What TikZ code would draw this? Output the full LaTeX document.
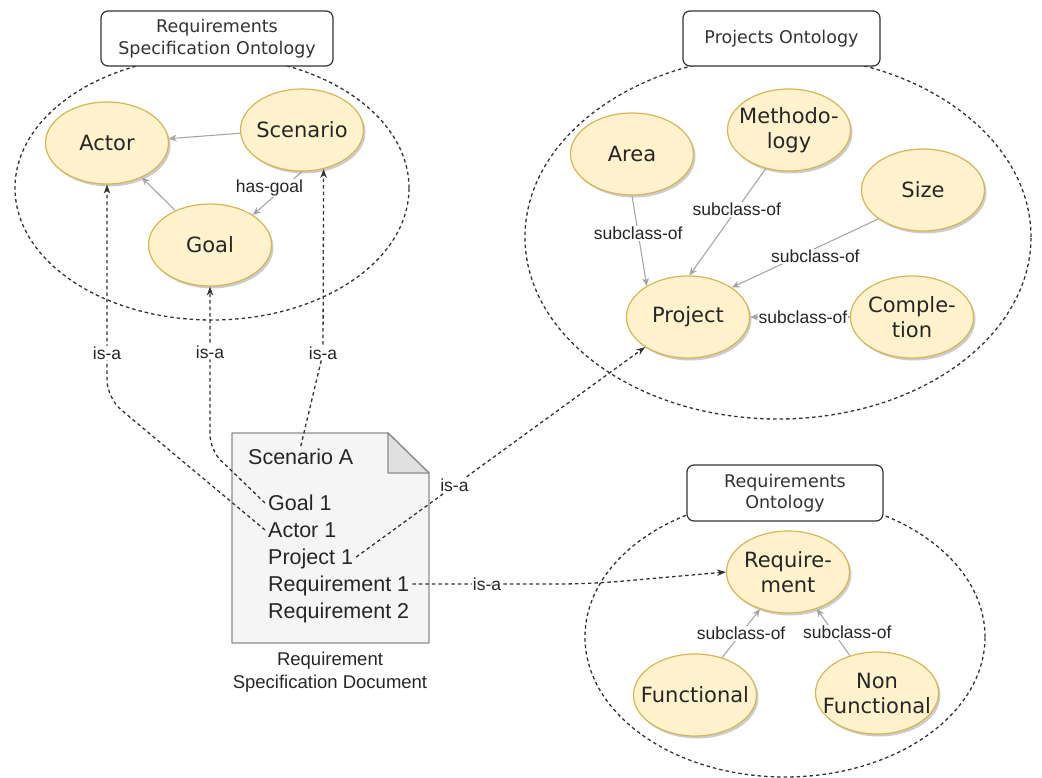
\documentclass[tikz,border=0pt]{standalone}
\usepackage{fontspec}
\setmainfont{DejaVu Sans}
\newfontfamily\labfont{Liberation Sans}
\usetikzlibrary{shapes.geometric,arrows.meta,shadows}
\definecolor{nodefill}{HTML}{FFF2CC}
\definecolor{nodedraw}{HTML}{D6B656}
\definecolor{darkline}{HTML}{333333}
\definecolor{subline}{HTML}{A6A6A6}
\definecolor{docfill}{HTML}{F5F5F5}
\definecolor{docdraw}{HTML}{8C8C8C}
\definecolor{foldfill}{HTML}{E0E0E0}
\definecolor{txt}{HTML}{262626}
\begin{document}
\begin{tikzpicture}[x=1pt,y=-1pt,
 conceptbase/.style={ellipse, draw=nodedraw, fill=nodefill, line width=1.2pt,
   minimum width=123pt, minimum height=82pt, inner sep=0pt,
   drop shadow={shadow xshift=2pt, shadow yshift=-2.5pt, opacity=0.2, fill=black}},
 ctext/.style={align=center, text=txt, inner sep=0pt, font=\fontsize{21}{25}\selectfont},
 concept/.style={conceptbase, label={[ctext]center:#1}},
 groupring/.style={ellipse, draw=darkline, line width=1.3pt, dash pattern=on 3.5pt off 3pt, inner sep=0pt},
 titlebox/.style={draw=darkline, fill=white, rounded corners=7pt, line width=1.2pt, inner sep=0pt,
   align=center, text=darkline, font=\fontsize{17.5}{21.5}\selectfont},
 subedge/.style={draw=subline, line width=1.1pt, -{Stealth[length=8pt,width=7pt]}},
 isaedge/.style={draw=darkline, line width=1.3pt, dash pattern=on 3.5pt off 3pt, -{Stealth[length=9pt,width=6.5pt]}},
 elabel/.style={fill=white, inner sep=1pt, text=txt, font=\labfont\fontsize{17.5}{21}\selectfont},
 docitem/.style={anchor=west, inner sep=3pt, text height=15.5pt, text depth=0pt, text=txt,
   font=\labfont\fontsize{21.5}{26}\selectfont},
 doccaption/.style={align=center, text=txt, inner sep=0pt, font=\labfont\fontsize{18.5}{23}\selectfont},
]
\useasboundingbox (0,0) rectangle (1042,778);

% group rings
\node[groupring, minimum width=394pt, minimum height=264pt] (ring1) at (212,188) {};
\node[groupring, minimum width=506pt, minimum height=364pt] (ring2) at (778,237) {};
\node[groupring, minimum width=400pt, minimum height=280pt] (ring3) at (785,637) {};

% titles
\node[titlebox, minimum width=232pt, minimum height=55pt] (t1) at (217,38.5) {Requirements\\Specification Ontology};
\node[titlebox, minimum width=197pt, minimum height=55pt] (t2) at (781.5,38.5) {Projects Ontology};
\node[titlebox, minimum width=196pt, minimum height=56pt] (t3) at (785,493) {Requirements\\Ontology};

% concepts
\node[concept={Actor}] (actor) at (107,143) {};
\node[concept={Scenario}] (scenario) at (302,130) {};
\node[concept={Goal}] (goal) at (210,245) {};
\node[concept={Area}] (area) at (632,154) {};
\node[concept={Methodo-\\logy}] (method) at (789,130) {};
\node[concept={Size}] (size) at (923,190) {};
\node[concept={Project}] (project) at (688,317) {};
\node[concept={Comple-\\tion}] (compl) at (912,317) {};
\node[concept={Require-\\ment}] (req) at (788,572) {};
\node[concept={Functional}] (func) at (695,695) {};
\node[concept={Non\\Functional}] (nonfunc) at (877,693) {};

% document
\draw[draw=docdraw, fill=docfill, line width=1.3pt, line join=round]
  (232,433) -- (388,433) -- (429,473) -- (429,643) -- (232,643) -- cycle;
\draw[draw=docdraw, fill=foldfill, line width=1.3pt, line join=round]
  (388,433) -- (388,473) -- (429,473) -- cycle;
\node[docitem] (sA) at (245,457) {Scenario A};
\node[docitem] (g1) at (265,503) {Goal 1};
\node[docitem] (a1) at (265,530) {Actor 1};
\node[docitem] (p1) at (265,557) {Project 1};
\node[docitem] (r1) at (265,584) {Requirement 1};
\node[docitem] (r2) at (265,611) {Requirement 2};
\node[doccaption] (cap) at (330,672) {Requirement\\Specification Document};

% subclass / relation edges
\draw[subedge] (scenario.183) -- (actor.4);
\draw[subedge] (goal) -- (actor);
\draw[subedge] (scenario.south) -- node[elabel, pos=0.38, xshift=-14pt] {has-goal} (goal.35);
\draw[subedge] (area.south) -- node[elabel, pos=0.42] {subclass-of} (project.143);
\draw[subedge] (method.-121) -- node[elabel, pos=0.38] {subclass-of} (project.88);
\draw[subedge] (size.213) -- node[elabel, pos=0.43, yshift=-8pt] {subclass-of} (project.34);
\draw[subedge] (compl.west) -- node[elabel, pos=0.47] {subclass-of} (project.east);
\draw[subedge] (func.54) -- node[elabel, pos=0.5] {subclass-of} (req.-127);
\draw[subedge] (nonfunc.126) -- node[elabel, pos=0.5, xshift=14pt] {subclass-of} (req.-52);

% is-a edges
\coordinate (k1) at (107,398);
\coordinate (k2) at (210,450);
\coordinate (k3) at (323,353);
\coordinate (k5) at (590,584);
\draw[isaedge, rounded corners=18pt] (a1.west) -- (k1) -- node[elabel, pos=0.21] {is-a} (actor.south);
\draw[isaedge, rounded corners=15pt] (g1.west) -- (k2) -- node[elabel, pos=0.6] {is-a} (goal.south);
\draw[isaedge] (sA.north) -- node[elabel, pos=1] {is-a} (k3) -- (scenario.-61);
\draw[isaedge] (p1.east) -- node[elabel, pos=0.34] {is-a} (project.-145);
\draw[isaedge, rounded corners=30pt] (r1.east) -- node[elabel, pos=0.42] {is-a} (k5) -- (req.west);
\end{tikzpicture}
\end{document}
